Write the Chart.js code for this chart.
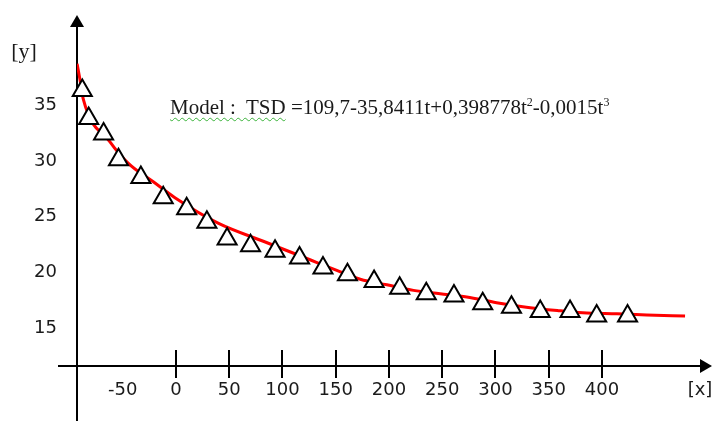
<!DOCTYPE html>
<html>
<head>
<meta charset="utf-8">
<script src="https://cdn.jsdelivr.net/npm/chart.js@4"></script>
<style>
  html, body { margin: 0; padding: 0; background: #fff; }
  #wrap { position: relative; width: 712px; height: 421px; }
  #model {
    position: absolute; left: 170px; top: 97px;
    font: 21px "Liberation Serif", "Times New Roman", serif;
    line-height: 1; color: #1a1a1a; white-space: pre;
  }
  #model .chk {
    text-decoration: underline wavy #3bb33b;
    text-decoration-thickness: 1px; text-underline-offset: 3px;
  }
  #model sup { font-size: 12px; vertical-align: baseline; position: relative; top: -8px; }
</style>
</head>
<body>
<div id="wrap">
  <canvas id="chart" width="712" height="421"></canvas>
  <div id="model"><span class="chk">Model :  TSD</span> =109,7-35,8411t+0,398778t<sup>2</sup>-0,0015t<sup>3</sup></div>
</div>
<script>
// tick labels
const X_TICKS = [-50, 0, 50, 100, 150, 200, 250, 300, 350, 400];
const Y_TICKS = [15, 20, 25, 30, 35];

// observed values (triangles)
const OBS_X = [-88, -82, -68, -54, -33, -12, 10, 29, 48, 70, 93, 116,
  138, 161, 186, 210, 235, 261, 288, 315, 342, 370, 395, 424];
const OBS_Y = [36.3, 33.8, 32.4, 30.1, 28.5, 26.7, 25.7, 24.5, 23.0, 22.4, 21.9, 21.3,
  20.4, 19.8, 19.2, 18.6, 18.1, 17.9, 17.2, 16.9, 16.5, 16.5, 16.1, 16.1];

// fitted model curve (red)
const FIT_X = [-92.9, -90, -87, -62, -45, -21, -1, 40, 82, 127, 151, 173,
  198, 223, 248, 273, 301, 329, 358, 382, 414, 442, 478];
const FIT_Y = [38.7, 37.2, 35.5, 31.7, 29.8, 28.1, 26.7, 24.4, 22.8, 21.1, 20.2, 19.4,
  18.9, 18.4, 18.1, 17.8, 17.3, 16.9, 16.6, 16.4, 16.3, 16.2, 16.1];

const X_MIN = -92.96, X_MAX = 503.3;
const Y_MIN = 11.63, Y_MAX = 43.06;

const INK = '#1a1a1a';
const TICK_FONT = { family: 'DejaVu Sans', size: 18 };

function fixBox(width, height) {
  return s => {
    if (width) s.width = width;
    if (height) s.height = height;
    s.paddingLeft = s.paddingRight = s.paddingTop = s.paddingBottom = 0;
  };
}

// hand-drawn style axes: arrows, crossing lines, tick marks above the x axis
const axesPlugin = {
  id: 'axes',
  beforeDatasetsDraw(chart) {
    const { ctx, chartArea: a, scales } = chart;
    const ox = a.left, oy = a.bottom;
    ctx.save();
    ctx.strokeStyle = '#000';
    ctx.fillStyle = '#000';
    ctx.lineWidth = 2;

    ctx.beginPath();
    ctx.moveTo(ox, a.top + 10);
    ctx.lineTo(ox, chart.height);
    ctx.moveTo(ox - 19, oy);
    ctx.lineTo(a.right - 10, oy);
    ctx.stroke();

    ctx.beginPath();
    ctx.moveTo(ox, a.top);
    ctx.lineTo(ox - 7, a.top + 12);
    ctx.lineTo(ox + 7, a.top + 12);
    ctx.closePath();
    ctx.fill();

    ctx.beginPath();
    ctx.moveTo(a.right, oy);
    ctx.lineTo(a.right - 12, oy - 7);
    ctx.lineTo(a.right - 12, oy + 7);
    ctx.closePath();
    ctx.fill();

    ctx.beginPath();
    scales.x.ticks.forEach(t => {
      if (t.value < 0) return;
      const px = Math.round(scales.x.getPixelForValue(t.value));
      ctx.moveTo(px, oy - 16);
      ctx.lineTo(px, oy + 12);
    });
    ctx.stroke();
    ctx.restore();
  },
  afterDraw(chart) {
    const { ctx, chartArea: a } = chart;
    ctx.save();
    ctx.fillStyle = INK;
    ctx.textAlign = 'center';
    ctx.textBaseline = 'middle';
    ctx.font = '22px "Liberation Serif"';
    ctx.fillText('[y]', a.left - 53, a.top + 37);
    ctx.font = '18px "DejaVu Sans"';
    ctx.fillText('[x]', a.right - 12, a.bottom + 24);
    ctx.restore();
  }
};

new Chart(document.getElementById('chart').getContext('2d'), {
  data: {
    datasets: [
      {
        type: 'scatter',
        data: OBS_X.map((x, i) => ({ x, y: OBS_Y[i] })),
        pointStyle: 'triangle',
        pointRadius: 11,
        pointBackgroundColor: '#fff',
        pointBorderColor: '#000',
        pointBorderWidth: 2,
        clip: false,
        order: 0,
      },
      {
        type: 'line',
        data: FIT_X.map((x, i) => ({ x, y: FIT_Y[i] })),
        borderColor: '#ff0000',
        borderWidth: 3,
        pointRadius: 0,
        cubicInterpolationMode: 'monotone',
        fill: false,
        order: 1,
      },
    ],
  },
  options: {
    responsive: false,
    animation: false,
    layout: { autoPadding: false, padding: { top: 15, right: 0, bottom: 0, left: 0 } },
    plugins: { legend: { display: false }, tooltip: { enabled: false } },
    scales: {
      x: {
        type: 'linear',
        min: X_MIN,
        max: X_MAX,
        grid: { display: false, drawTicks: false },
        border: { display: false },
        afterBuildTicks: s => { s.ticks = X_TICKS.map(v => ({ value: v })); },
        afterFit: fixBox(0, 55),
        ticks: { font: TICK_FONT, color: INK, padding: 14, maxRotation: 0, autoSkip: false },
      },
      y: {
        type: 'linear',
        min: Y_MIN,
        max: Y_MAX,
        grid: { display: false, drawTicks: false },
        border: { display: false },
        afterBuildTicks: s => { s.ticks = Y_TICKS.map(v => ({ value: v })); },
        afterFit: fixBox(77, 0),
        ticks: { font: TICK_FONT, color: INK, padding: 20 },
      },
    },
  },
  plugins: [axesPlugin],
});
</script>
</body>
</html>
